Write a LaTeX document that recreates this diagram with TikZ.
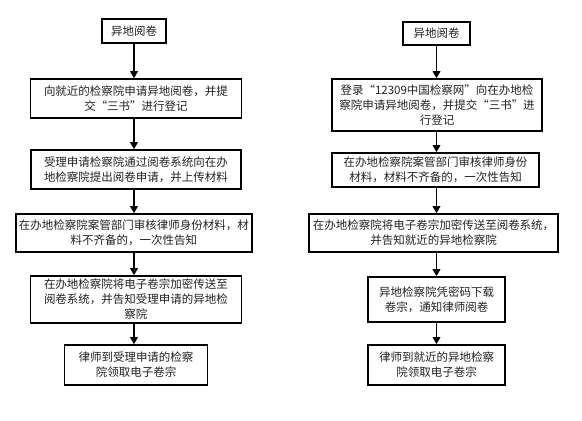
\documentclass[tikz,border=0pt]{standalone}
\usepackage{fontspec}
\setmainfont{Noto Sans CJK SC}
\usetikzlibrary{arrows.meta}
\definecolor{txt}{HTML}{222222}
\tikzset{
  box/.style={draw=black, line width=1.5pt, fill=white, inner sep=0pt, align=center,
    text=txt, font=\fontsize{11.5}{15}\selectfont},
  arr/.style={line width=1.6pt, -{Triangle[length=7pt,width=7.5pt]}}
}
\begin{document}
\begin{tikzpicture}[x=1pt,y=1pt]
\fill[white] (0,0) rectangle (582,421);
\useasboundingbox (0,0) rectangle (582,421);
% left column
\node[box, minimum width=64, minimum height=24] (l1) at (134,390) {异地阅卷};
\node[box, minimum width=211, minimum height=39] (l2) at (136,322.5) {向就近的检察院申请异地阅卷，并提\\交“三书”进行登记};
\node[box, minimum width=210, minimum height=39] (l3) at (136,251.5) {受理申请检察院通过阅卷系统向在办\\地检察院提出阅卷申请，并上传材料};
\node[box, minimum width=236, minimum height=38] (l4) at (134,188) {在办地检察院案管部门审核律师身份材料，材\\料不齐备的，一次性告知};
\node[box, minimum width=211, minimum height=47] (l5) at (136,121.5) {在办地检察院将电子卷宗加密传送至\\阅卷系统，并告知受理申请的异地检\\察院};
\node[box, minimum width=143, minimum height=40] (l6) at (136,56) {律师到受理申请的检察\\院领取电子卷宗};
% right column
\node[box, minimum width=67, minimum height=23] (r1) at (436.5,387.5) {异地阅卷};
\node[box, minimum width=210, minimum height=52] (r2) at (437,316) {登录“12309中国检察网”向在办地检\\察院申请异地阅卷，并提交“三书”进\\行登记};
\node[box, minimum width=207, minimum height=34] (r3) at (435.5,251) {在办地检察院案管部门审核律师身份\\材料，材料不齐备的，一次性告知};
\node[box, minimum width=249, minimum height=38] (r4) at (433.5,188) {在办地检察院将电子卷宗加密传送至阅卷系统，\\并告知就近的异地检察院};
\node[box, minimum width=137, minimum height=45] (r5) at (436.5,121.5) {异地检察院凭密码下载\\卷宗，通知律师阅卷};
\node[box, minimum width=137, minimum height=40] (r6) at (436.5,56) {律师到就近的异地检察\\院领取电子卷宗};
% arrows left
\draw[arr] (l1) -- (l1 |- l2.north);
\draw[arr] (l1 |- l2.south) -- (l1 |- l3.north);
\draw[arr] (l1 |- l3.south) -- (l1 |- l4.north);
\draw[arr] (l1 |- l4.south) -- (l1 |- l5.north);
\draw[arr] (l1 |- l5.south) -- (l1 |- l6.north);
% arrows right
\draw[arr] (r1) -- (r1 |- r2.north);
\draw[arr] (r1 |- r2.south) -- (r1 |- r3.north);
\draw[arr] (r1 |- r3.south) -- (r1 |- r4.north);
\draw[arr] (r1 |- r4.south) -- (r1 |- r5.north);
\draw[arr] (r1 |- r5.south) -- (r1 |- r6.north);
\end{tikzpicture}
\end{document}
